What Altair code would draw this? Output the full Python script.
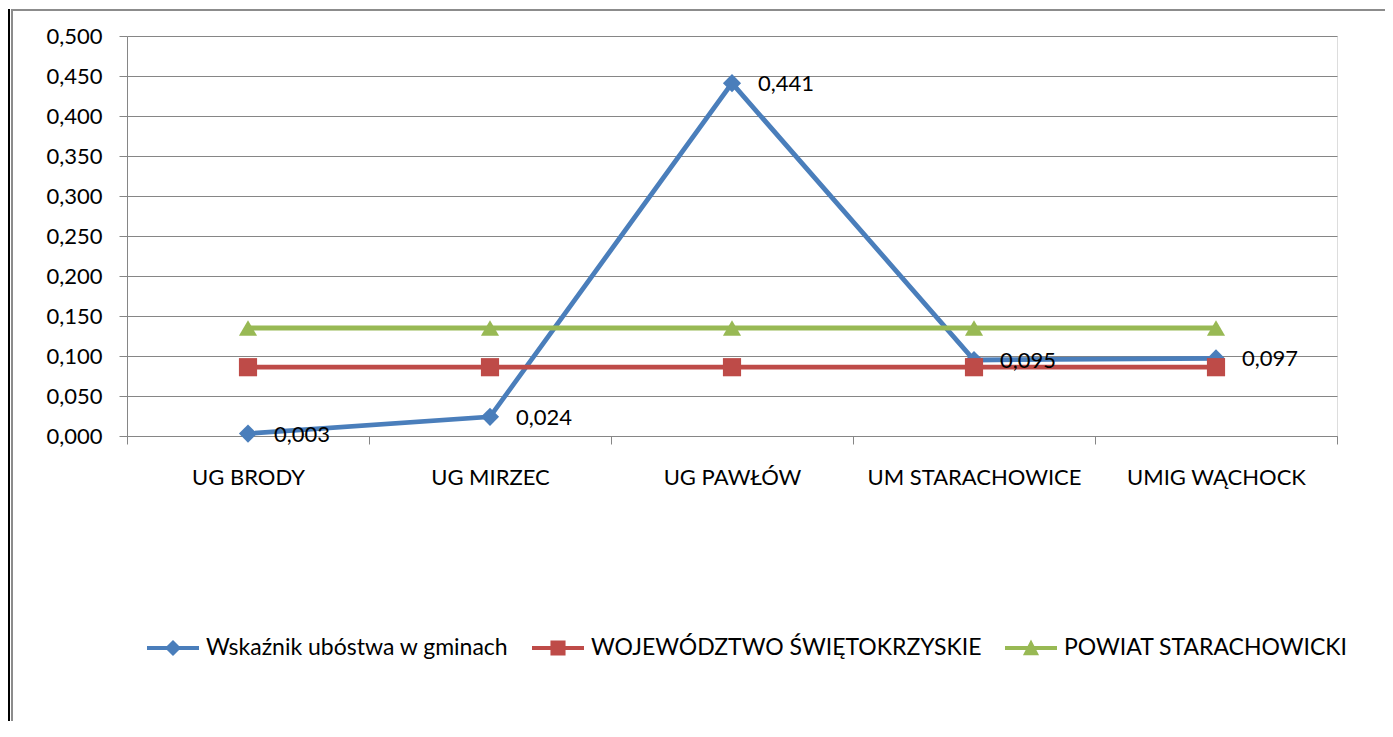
import altair as alt
import pandas as pd

categories = ["UG BRODY", "UG MIRZEC", "UG PAWŁÓW", "UM STARACHOWICE", "UMIG WĄCHOCK"]
series_names = ["Wskaźnik ubóstwa w gminach", "WOJEWÓDZTWO ŚWIĘTOKRZYSKIE", "POWIAT STARACHOWICKI"]
wskaznik = [0.003, 0.024, 0.441, 0.095, 0.097]
wojewodztwo = [0.086, 0.086, 0.086, 0.086, 0.086]
powiat = [0.135, 0.135, 0.135, 0.135, 0.135]
y_ticks = [0.0, 0.05, 0.1, 0.15, 0.2, 0.25, 0.3, 0.35, 0.4, 0.45, 0.5]
colors = ["#4A7EBB", "#BE4B48", "#98B954"]
marker_shapes = ["diamond", "square", "triangle-up"]
legend_shapes = [
    "M-1,-0.08H1V0.08H-1Z M0,-0.31L0.31,0L0,0.31L-0.31,0Z",
    "M-1,-0.08H1V0.08H-1Z M-0.29,-0.29H0.29V0.29H-0.29Z",
    "M-1,-0.08H1V0.08H-1Z M0,-0.33L0.31,0.28L-0.31,0.28Z",
]

GREY = "#868686"
FONT = "Lato"
FS = 22

rows = []
for name, vals in zip(series_names, [wskaznik, wojewodztwo, powiat]):
    for c, v in zip(categories, vals):
        rows.append({"gmina": c, "series": name, "value": v})
df = pd.DataFrame(rows)

label_df = df[df["series"] == series_names[0]].copy()
label_df["label"] = label_df["value"].map(lambda v: f"{v:.3f}".replace(".", ","))

legend_df = pd.DataFrame({"series": series_names})
one = pd.DataFrame({"a": [0]})

x_enc = alt.X(
    "gmina:N",
    sort=categories,
    scale=alt.Scale(type="band", domain=categories, paddingInner=0, paddingOuter=0),
    axis=alt.Axis(
        title=None, tickBand="extent", tickSize=8, tickColor=GREY, domainColor=GREY,
        labelPadding=23, labelFontSize=FS, labelFont=FONT, labelColor="black",
        grid=False, labelAngle=0, labelLimit=400,
    ),
)
y_enc = alt.Y(
    "value:Q",
    scale=alt.Scale(domain=[0, 0.5], nice=False, zero=True),
    axis=alt.Axis(
        title=None, values=y_ticks,
        labelExpr="replace(format(datum.value, '.3f'), '.', ',')",
        grid=True, gridColor=GREY, gridWidth=1, tickSize=8, tickColor=GREY,
        domainColor=GREY, labelPadding=17, labelFontSize=FS, labelFont=FONT,
        labelColor="black",
    ),
)

color_scale = alt.Scale(domain=series_names, range=colors)

lines = alt.Chart(df).mark_line(strokeWidth=4.8).encode(
    x=x_enc, y=y_enc,
    color=alt.Color("series:N", scale=color_scale, legend=None),
)

points = alt.Chart(df).mark_point(filled=True, size=330, opacity=1, strokeWidth=0).encode(
    x=x_enc, y=y_enc,
    color=alt.Color("series:N", scale=color_scale, legend=None),
    shape=alt.Shape("series:N", scale=alt.Scale(domain=series_names, range=marker_shapes), legend=None),
)

labels = alt.Chart(label_df).mark_text(
    align="left", baseline="middle", dx=26, dy=1, fontSize=FS, font=FONT, color="black"
).encode(x=x_enc, y=y_enc, text="label:N")

leg = alt.Legend(
    title=None, orient="none", legendX=20, legendY=586, direction="horizontal",
    columns=3, labelFont=FONT, labelFontSize=23, labelColor="black",
    symbolSize=2704, symbolStrokeWidth=0, labelOffset=7, columnPadding=23,
    padding=0, labelLimit=600,
)
legend_layer = alt.Chart(legend_df).mark_point(filled=True, size=2704, opacity=1, strokeWidth=0).encode(
    x=alt.value(-3000), y=alt.value(-3000),
    color=alt.Color("series:N", scale=color_scale, legend=leg),
    shape=alt.Shape("series:N", scale=alt.Scale(domain=series_names, range=legend_shapes), legend=leg),
)

frame_black = alt.Chart(one).mark_rule(color="black", strokeWidth=2).encode(
    x=alt.value(-118), y=alt.value(-27), y2=alt.value(685)
)
frame_grey_v = alt.Chart(one).mark_rule(color="#8c8c8c", strokeWidth=2).encode(
    x=alt.value(-115), y=alt.value(-26), y2=alt.value(685)
)
frame_grey_h = alt.Chart(one).mark_rule(color="#8c8c8c", strokeWidth=2).encode(
    x=alt.value(-116), x2=alt.value(1258), y=alt.value(-26)
)

chart = alt.layer(
    frame_black, frame_grey_v, frame_grey_h, lines, points, labels, legend_layer
).resolve_scale(
    color="independent", shape="independent"
).properties(
    width=1210, height=400,
    autosize=alt.AutoSizeParams(type="none"),
    padding={"left": 119, "top": 28, "right": 48, "bottom": 293},
).configure_view(stroke=None).configure(font=FONT)

chart.save("out.html", embed_options={"renderer": "svg", "actions": False})
